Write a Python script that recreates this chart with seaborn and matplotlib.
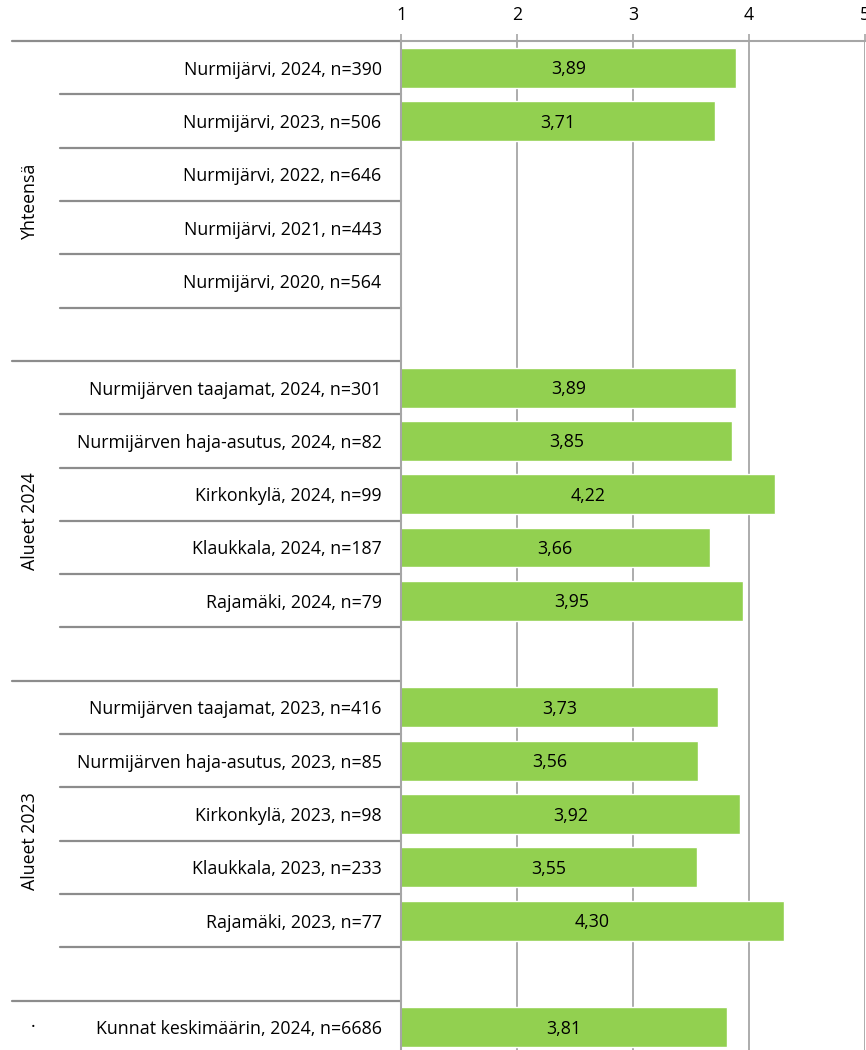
import numpy as np
import pandas as pd
import matplotlib
matplotlib.use("Agg")
import matplotlib.pyplot as plt
import matplotlib.transforms as mtransforms
from matplotlib.lines import Line2D
import seaborn as sns

# ---- data ----
group_names = ["Yhteensä", "Alueet 2024", "Alueet 2023", "·"]
group_sizes = [6, 6, 6, 1]  # rows per group (incl. blank spacer row)
labels = [
    "Nurmijärvi, 2024, n=390", "Nurmijärvi, 2023, n=506", "Nurmijärvi, 2022, n=646",
    "Nurmijärvi, 2021, n=443", "Nurmijärvi, 2020, n=564", " ",
    "Nurmijärven taajamat, 2024, n=301", "Nurmijärven haja-asutus, 2024, n=82",
    "Kirkonkylä, 2024, n=99", "Klaukkala, 2024, n=187", "Rajamäki, 2024, n=79", "  ",
    "Nurmijärven taajamat, 2023, n=416", "Nurmijärven haja-asutus, 2023, n=85",
    "Kirkonkylä, 2023, n=98", "Klaukkala, 2023, n=233", "Rajamäki, 2023, n=77", "   ",
    "Kunnat keskimäärin, 2024, n=6686",
]
values = [3.89, 3.71, np.nan, np.nan, np.nan, np.nan,
          3.89, 3.85, 4.22, 3.66, 3.95, np.nan,
          3.73, 3.56, 3.92, 3.55, 4.30, np.nan,
          3.81]
xticks = [1, 2, 3, 4, 5]

df = pd.DataFrame({"label": labels, "value": values})

W, H = 866, 1050
fig = plt.figure(figsize=(W / 100, H / 100), dpi=100)
sns.set_style("white")
plt.rcParams["font.family"] = ["Open Sans", "DejaVu Sans"]
FS = 12.8

ax_left, ax_right, ax_top, ax_bot = 401, 865, 41, 1054
ax = fig.add_axes([ax_left / W, 1 - ax_bot / H, (ax_right - ax_left) / W, (ax_bot - ax_top) / H])

sns.barplot(data=df, x="value", y="label", order=labels, orient="h",
            color="#92D050", saturation=1, width=0.75, ax=ax, errorbar=None)

ax.set_xlim(1, 5)
ax.set_ylim(len(labels) - 0.5, -0.5)
ax.set_xlabel("")
ax.set_ylabel("")
grid_c = "#A6A6A6"
ax.xaxis.tick_top()
ax.set_xticks(xticks)
ax.set_xticklabels([str(t) for t in xticks], fontsize=FS, color="black")
ax.tick_params(axis="x", direction="out", length=5, width=1.2, color=grid_c, pad=7)
ax.tick_params(axis="y", length=0, pad=14, labelsize=FS)
for t in ax.get_yticklabels():
    t.set_color("black")
for x in xticks[1:]:
    ax.axvline(x, color=grid_c, lw=1.3, zorder=0)
for s in ["right", "bottom"]:
    ax.spines[s].set_visible(False)
for s in ["left", "top"]:
    ax.spines[s].set_color(grid_c)
    ax.spines[s].set_linewidth(1.5)

# value labels centred in bars
for i, v in enumerate(values):
    if not np.isnan(v):
        ax.text((1 + v) / 2, i + 0.03, f"{v:.2f}".replace(".", ","), ha="center", va="center",
                fontsize=FS, color="black")

# separators and group labels
trans = mtransforms.blended_transform_factory(fig.transFigure, ax.transData)
sep_c = "#8C8C8C"
start = 0
for g, n in zip(group_names, group_sizes):
    ax.add_line(Line2D([12 / W, ax_left / W], [start - 0.5, start - 0.5], transform=trans,
                       color=sep_c, lw=1.6, clip_on=False))
    for k in range(1, n):
        ax.add_line(Line2D([60 / W, ax_left / W], [start + k - 0.5] * 2, transform=trans,
                           color=sep_c, lw=1.6, clip_on=False))
    center = start + (n - 1) / 2
    if n > 1:
        ax.text(30 / W, center, g, transform=trans, rotation=90, ha="center", va="center",
                fontsize=FS, color="black")
    else:
        ax.text(33 / W, center, g, transform=trans, ha="center", va="center",
                fontsize=FS, color="black")
    start += n

fig.savefig("out.png", dpi=100)
